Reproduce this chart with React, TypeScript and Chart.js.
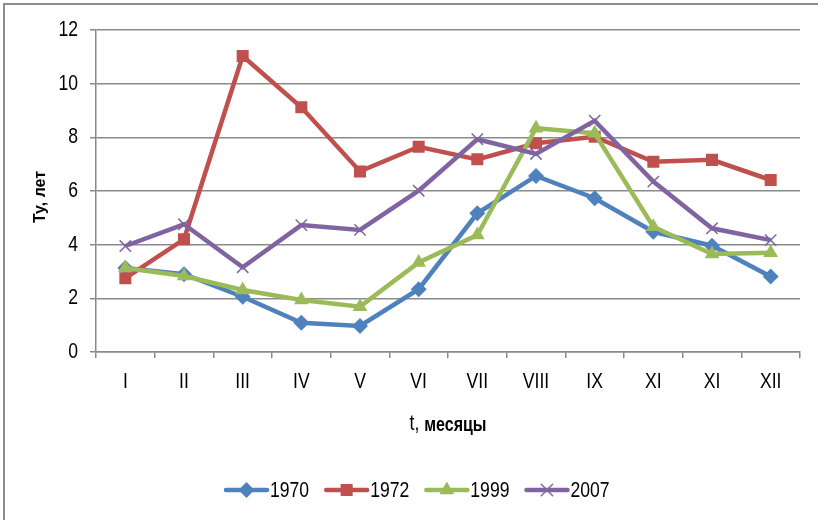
import React, { useEffect, useRef } from "react";
import { Chart, registerables } from "chart.js";

Chart.register(...registerables);

const months = ["I", "II", "III", "IV", "V", "VI", "VII", "VIII", "IX", "XI", "XI", "XII"];
const seriesNames = ["1970", "1972", "1999", "2007"];
const v1970 = [3.13, 2.9, 2.06, 1.09, 0.97, 2.34, 5.17, 6.56, 5.73, 4.48, 3.96, 2.81];
const v1972 = [2.75, 4.2, 11.03, 9.12, 6.73, 7.65, 7.18, 7.78, 8.02, 7.09, 7.16, 6.41];
const v1999 = [3.13, 2.83, 2.31, 1.94, 1.69, 3.34, 4.36, 8.34, 8.15, 4.67, 3.65, 3.7];
const v2007 = [3.95, 4.76, 3.16, 4.73, 4.55, 6.01, 7.93, 7.38, 8.62, 6.35, 4.61, 4.17];
const yTitle = "Ту, лет";
const xTitleA = "t, ";
const xTitleB = "месяцы";

const colors = ["#4F81BD", "#C0504D", "#9BBB59", "#8064A2"];
const styles = ["rectRot", "rect", "triangle", "crossRot"];
const radii = [8, 8.5, 8.5, 8];
const SANS = '"Liberation Sans", Arial, sans-serif';
const SX = 0.8; // horizontal squeeze to imitate the narrow font
const GRID = "#8a8a8a";

function drawMarker(ctx: CanvasRenderingContext2D, style: string, x: number, y: number, r: number, color: string) {
  ctx.save();
  ctx.fillStyle = color;
  ctx.strokeStyle = color;
  ctx.beginPath();
  if (style === "rectRot") {
    ctx.moveTo(x - r, y);
    ctx.lineTo(x, y - r);
    ctx.lineTo(x + r, y);
    ctx.lineTo(x, y + r);
    ctx.closePath();
    ctx.fill();
  } else if (style === "rect") {
    const s = Math.SQRT1_2 * r;
    ctx.rect(x - s, y - s, 2 * s, 2 * s);
    ctx.fill();
  } else if (style === "triangle") {
    const h = 1.5 * r;
    ctx.moveTo(x, y - r);
    ctx.lineTo(x + h / Math.sqrt(3), y + r / 2);
    ctx.lineTo(x - h / Math.sqrt(3), y + r / 2);
    ctx.closePath();
    ctx.fill();
  } else {
    const d = Math.SQRT1_2 * r;
    ctx.lineWidth = 1.5;
    ctx.moveTo(x - d, y - d);
    ctx.lineTo(x + d, y + d);
    ctx.moveTo(x + d, y - d);
    ctx.lineTo(x - d, y + d);
    ctx.stroke();
  }
  ctx.restore();
}

function squeezedText(ctx: CanvasRenderingContext2D, text: string, x: number, y: number, font: string, align: CanvasTextAlign) {
  ctx.save();
  ctx.font = font;
  ctx.textAlign = align;
  ctx.textBaseline = "middle";
  ctx.fillStyle = "#000";
  ctx.translate(x, y);
  ctx.scale(SX, 1);
  ctx.fillText(text, 0, 0);
  ctx.restore();
}

function squeezedWidth(ctx: CanvasRenderingContext2D, text: string, font: string) {
  ctx.save();
  ctx.font = font;
  const w = ctx.measureText(text).width * SX;
  ctx.restore();
  return w;
}

const decorPlugin = {
  id: "decor",
  afterDraw(chart: any) {
    const ctx: CanvasRenderingContext2D = chart.ctx;
    const area = chart.chartArea;
    const tickFont = "22px " + SANS;
    ctx.save();
    // frame
    ctx.strokeStyle = "#8c8c8c";
    ctx.lineWidth = 2;
    ctx.beginPath();
    ctx.moveTo(4, 520);
    ctx.lineTo(4, 4);
    ctx.lineTo(818, 4);
    ctx.stroke();

    // y tick labels from the scale
    const ys = chart.scales.y;
    ys.ticks.forEach((t: any, i: number) => {
      squeezedText(ctx, String(t.label), area.left - 18, ys.getPixelForTick(i), tickFont, "right");
    });
    // x tick labels from the scale
    const xs = chart.scales.x;
    xs.ticks.forEach((t: any, i: number) => {
      squeezedText(ctx, String(t.label), xs.getPixelForTick(i), area.bottom + 30, tickFont, "center");
    });

    // y title
    ctx.fillStyle = "#000";
    ctx.font = "bold 16px " + SANS;
    ctx.textAlign = "center";
    ctx.textBaseline = "middle";
    ctx.translate(41, 197);
    ctx.rotate(-Math.PI / 2);
    ctx.fillText(yTitle, 0, 0);
    ctx.setTransform(1, 0, 0, 1, 0, 0);

    // x title (mixed fonts)
    const cx = (area.left + area.right) / 2;
    const fa = "22px " + SANS;
    const fb = "bold 20px " + SANS;
    const wa = squeezedWidth(ctx, xTitleA, fa);
    const wb = squeezedWidth(ctx, xTitleB, fb);
    const x0 = cx - (wa + wb) / 2;
    squeezedText(ctx, xTitleA, x0, 424, fa, "left");
    squeezedText(ctx, xTitleB, x0 + wa, 425, fb, "left");

    // legend
    const ly = 490;
    let lx = 226;
    seriesNames.forEach((name, i) => {
      ctx.strokeStyle = colors[i];
      ctx.lineWidth = 4.5;
      ctx.lineCap = "round";
      ctx.beginPath();
      ctx.moveTo(lx, ly);
      ctx.lineTo(lx + 41, ly);
      ctx.stroke();
      drawMarker(ctx, styles[i], lx + 20.5, ly, radii[i], colors[i]);
      squeezedText(ctx, name, lx + 44, ly + 1, tickFont, "left");
      lx += 44 + squeezedWidth(ctx, name, tickFont) + 17;
    });
    ctx.restore();
  },
};

export default function App() {
  const ref = useRef<HTMLCanvasElement | null>(null);
  useEffect(() => {
    const prevMargin = document.body.style.margin;
    document.body.style.margin = "0";
    const values = [v1970, v1972, v1999, v2007];
    const chart = new Chart(ref.current as HTMLCanvasElement, {
      type: "line",
      data: {
        labels: months,
        datasets: values.map((vals, i) => ({
          label: seriesNames[i],
          data: vals,
          borderColor: colors[i],
          backgroundColor: colors[i],
          borderWidth: 4.5,
          pointStyle: styles[i] as any,
          pointRadius: radii[i],
          pointBorderWidth: i === 3 ? 1.5 : 0,
          pointBackgroundColor: colors[i],
          pointBorderColor: colors[i],
          tension: 0,
          order: 4 - i,
        })),
      },
      options: {
        responsive: false,
        animation: false,
        layout: { padding: { top: 30, right: 18, left: 0, bottom: 0 } },
        plugins: {
          legend: { display: false },
          title: { display: false },
          tooltip: { enabled: false },
        },
        scales: {
          x: {
            offset: true,
            grid: {
              display: true,
              offset: true,
              drawOnChartArea: false,
              drawTicks: true,
              tickLength: 6,
              color: GRID,
              lineWidth: 1.5,
            },
            border: { display: true, color: GRID, width: 1.5 },
            ticks: {
              color: "rgba(0,0,0,0)",
              font: { family: SANS, size: 18 },
              padding: 12,
              autoSkip: false,
              maxRotation: 0,
            },
            afterFit: (scale: any) => {
              scale.height = 168;
            },
          },
          y: {
            min: 0,
            max: 12,
            ticks: {
              stepSize: 2,
              color: "rgba(0,0,0,0)",
              font: { family: SANS, size: 18 },
              padding: 12,
            },
            grid: {
              color: GRID,
              lineWidth: 1.5,
              tickLength: 6,
            },
            border: { display: true, color: GRID, width: 1.5 },
            afterFit: (scale: any) => {
              scale.width = 96;
            },
          },
        },
      },
      plugins: [decorPlugin],
    });
    return () => {
      chart.destroy();
      document.body.style.margin = prevMargin;
    };
  }, []);
  return (
    <div style={{ position: "fixed", left: 0, top: 0, width: 818, height: 520, background: "#fff" }}>
      <canvas ref={ref} width={818} height={520} style={{ display: "block", width: 818, height: 520 }} />
    </div>
  );
}
